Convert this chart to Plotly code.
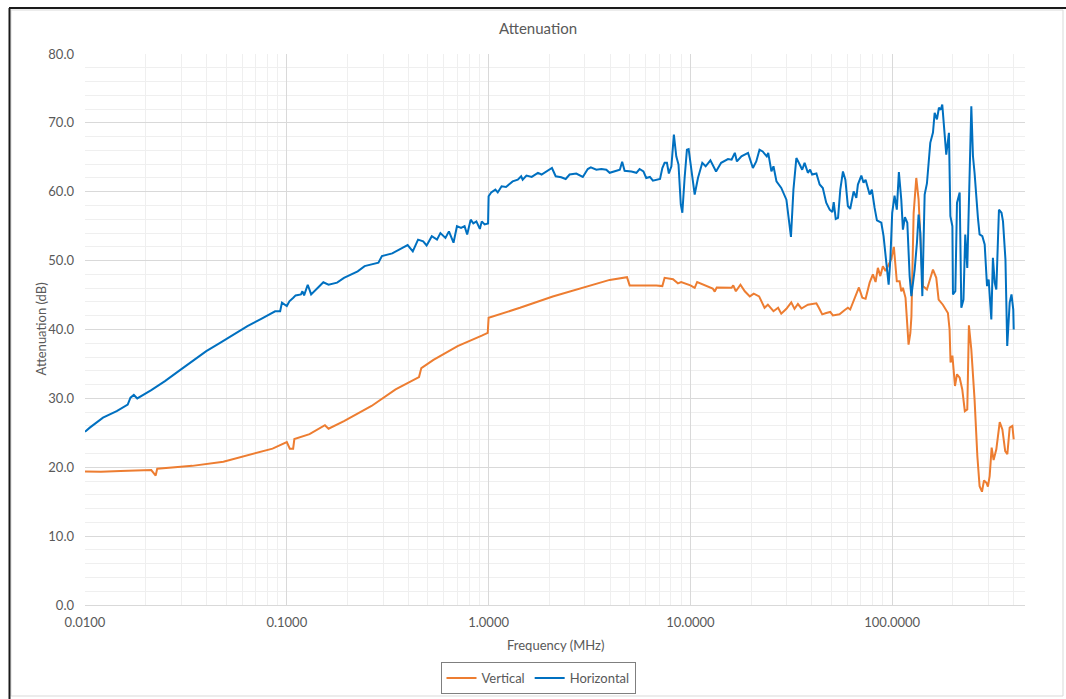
import plotly.graph_objects as go

# Vertical polarisation: frequency (MHz) and attenuation (dB)
v_freq = [0.0100, 0.0120, 0.0150, 0.0180, 0.0213, 0.0224, 0.0228, 0.0270, 0.0340, 0.0485,
          0.0690, 0.0850, 0.1000, 0.1035, 0.1075, 0.1090, 0.1296, 0.1545, 0.1610, 0.1920,
          0.2630, 0.3460, 0.4520, 0.4640, 0.5330, 0.7020, 0.9250, 0.9900, 1.0000, 1.4300,
          2.0800, 2.9300, 3.9800, 4.8500, 5.0000, 6.7800, 7.2600, 7.4500, 8.2000, 8.6700,
          9.0000, 10.0, 10.5, 10.8, 12.0, 12.9, 13.2, 13.5, 16.0, 16.3,
          16.8, 17.7, 18.6, 19.7, 20.6, 21.9, 23.3, 24.2, 25.8, 27.2,
          28.2, 29.9, 31.6, 32.8, 34.1, 35.5, 38.2, 42.1, 43.3, 45.0,
          47.1, 49.3, 50.8, 54.8, 58.0, 60.3, 61.9, 63.8, 66.4, 68.4,
          71.1, 73.8, 77.3, 80.2, 82.7, 84.9, 87.3, 89.9, 92.7, 95.3,
          98.9, 101.9, 105.4, 108.8, 110.9, 113.0, 116.4, 120.5, 123.0, 124.5,
          127.7, 131.6, 135.1, 139.3, 142.0, 148.6, 159.2, 165.3, 169.8, 178.2,
          182.4, 188.8, 192.4, 194.6, 198.7, 204.7, 209.4, 215.9, 222.4, 229.0,
          235.5, 239.9, 246.6, 255.9, 264.2, 271.0, 278.5, 285.0, 293.0, 298.0,
          304.0, 311.0, 318.0, 328.0, 341.0, 351.5, 363.0, 372.0, 382.0, 394.0,
          400.0]
v_db = [19.40, 19.35, 19.45, 19.50, 19.60, 18.80, 19.80, 19.95, 20.20, 20.80,
        21.95, 22.70, 23.65, 22.70, 22.70, 24.10, 24.80, 26.10, 25.60, 26.70,
        28.90, 31.30, 33.10, 34.40, 35.60, 37.60, 39.10, 39.50, 41.70, 43.15,
        44.80, 46.10, 47.20, 47.60, 46.40, 46.40, 46.30, 47.50, 47.30, 46.70,
        46.90, 46.40, 46.05, 46.90, 46.30, 45.95, 45.50, 46.10, 46.05, 46.40,
        45.55, 46.50, 45.55, 44.80, 45.20, 44.80, 43.15, 43.60, 42.65, 43.15,
        42.30, 43.00, 43.95, 43.00, 43.70, 43.05, 43.60, 43.80, 43.15, 42.20,
        42.40, 42.55, 42.05, 42.20, 42.80, 43.15, 42.90, 43.80, 45.10, 46.10,
        44.60, 44.45, 46.80, 48.00, 46.90, 48.95, 47.75, 49.20, 48.50, 49.30,
        50.20, 52.00, 47.00, 47.00, 45.55, 46.05, 44.60, 37.80, 39.50, 41.90,
        56.90, 62.00, 58.90, 50.60, 46.30, 45.80, 48.70, 47.50, 44.35, 43.60,
        43.15, 42.40, 40.00, 35.20, 36.20, 31.80, 33.50, 33.00, 31.30, 28.15,
        28.40, 40.60, 37.10, 29.85, 21.60, 17.25, 16.45, 18.10, 17.75, 17.20,
        18.70, 22.85, 21.05, 22.60, 26.55, 25.50, 22.35, 21.90, 25.75, 26.00,
        24.05]

# Horizontal polarisation: frequency (MHz) and attenuation (dB)
h_freq = [0.0100, 0.01056, 0.01228, 0.01436, 0.01628, 0.0168, 0.01746, 0.01815, 0.0213, 0.0249,
          0.0291, 0.0340, 0.0399, 0.0467, 0.0546, 0.0638, 0.0747, 0.0875, 0.0927, 0.0946,
          0.1000, 0.1030, 0.1077, 0.1106, 0.1175, 0.1195, 0.1218, 0.1270, 0.1320, 0.1517,
          0.1610, 0.1775, 0.1920, 0.2075, 0.2245, 0.2430, 0.2630, 0.2845, 0.2960, 0.3330,
          0.3740, 0.3970, 0.4210, 0.4470, 0.4740, 0.4930, 0.5230, 0.5550, 0.5770, 0.6110,
          0.6360, 0.6700, 0.6970, 0.7300, 0.7600, 0.7830, 0.8150, 0.8400, 0.8700, 0.9050,
          0.9250, 0.9550, 0.9940, 1.0000, 1.0300, 1.0800, 1.1100, 1.1600, 1.2200, 1.3160,
          1.3950, 1.4500, 1.4750, 1.5400, 1.6350, 1.7550, 1.8300, 2.0000, 2.0600, 2.1500,
          2.2900, 2.4100, 2.5200, 2.7200, 2.9300, 3.1000, 3.2100, 3.4200, 3.6200, 3.8300,
          3.9800, 4.3000, 4.4700, 4.5900, 4.7200, 5.1000, 5.4000, 5.6000, 5.8500, 6.0400,
          6.3000, 6.5200, 6.8000, 7.0700, 7.2600, 7.4500, 7.6500, 7.8200, 8.0500, 8.2800,
          8.5100, 8.7300, 8.9600, 9.1200, 9.3600, 9.6100, 9.8000, 10.1, 10.5, 10.9,
          11.45, 11.9, 12.56, 13.4, 14.2, 15.35, 16.0, 16.6, 17.0, 17.9,
          19.3, 20.4, 21.2, 22.0, 22.8, 23.9, 24.3, 25.2, 25.8, 26.7,
          28.2, 29.9, 31.5, 32.4, 33.5, 34.8, 35.8, 36.8, 38.2, 39.2,
          40.1, 42.1, 43.7, 45.3, 47.1, 49.0, 50.5, 51.3, 52.5, 53.9,
          55.3, 57.0, 58.6, 60.3, 61.9, 64.4, 66.4, 67.6, 70.3, 72.1,
          73.8, 77.3, 79.3, 81.8, 84.0, 88.3, 90.6, 93.5, 96.0, 97.9,
          100.0, 102.7, 105.4, 107.9, 110.9, 113.0, 115.6, 118.8, 122.0, 124.4,
          129.2, 132.6, 135.1, 137.8, 141.0, 144.8, 148.6, 154.4, 159.2, 162.3,
          166.6, 170.4, 173.9, 177.0, 181.9, 185.3, 191.0, 194.2, 198.7, 200.0,
          205.5, 209.4, 215.9, 220.0, 225.5, 230.1, 235.5, 241.7, 246.6, 251.3,
          255.9, 265.9, 271.0, 279.6, 287.2, 295.0, 300.6, 309.8, 315.5, 322.0,
          328.0, 338.0, 348.0, 354.0, 364.0, 371.5, 382.0, 390.0, 398.0, 400.0]
h_db = [25.15, 25.75, 27.20, 28.15, 29.10, 30.10, 30.50, 30.00, 31.20, 32.50,
        33.95, 35.40, 36.85, 38.05, 39.30, 40.50, 41.55, 42.65, 42.65, 43.90,
        43.40, 44.10, 44.60, 44.95, 45.10, 45.55, 44.95, 46.50, 45.10, 46.85,
        46.50, 46.80, 47.50, 48.00, 48.45, 49.20, 49.45, 49.70, 50.65, 51.05,
        51.85, 52.25, 51.35, 53.05, 52.80, 52.20, 53.55, 53.05, 54.00, 53.30,
        54.25, 52.60, 55.00, 54.75, 55.00, 53.80, 55.95, 55.40, 55.70, 54.60,
        55.70, 55.25, 55.40, 59.35, 59.90, 60.30, 59.90, 60.80, 60.70, 61.50,
        61.75, 62.25, 61.75, 62.35, 62.15, 62.75, 62.50, 63.30, 63.45, 62.25,
        62.10, 61.85, 62.50, 62.65, 62.15, 63.30, 63.55, 63.20, 63.30, 63.20,
        62.75, 63.05, 63.20, 64.35, 63.05, 62.95, 62.75, 63.30, 62.95, 62.00,
        62.15, 61.60, 61.75, 61.85, 63.45, 64.20, 64.20, 62.65, 63.70, 68.30,
        65.15, 63.95, 58.15, 56.95, 62.00, 66.10, 66.20, 63.20, 59.60, 62.00,
        64.20, 63.70, 64.55, 62.95, 64.20, 64.75, 64.65, 65.65, 64.40, 65.15,
        65.65, 63.45, 64.40, 66.10, 65.85, 65.15, 65.65, 62.95, 63.70, 61.50,
        60.55, 58.85, 53.45, 60.30, 64.90, 63.95, 63.20, 64.20, 62.75, 63.20,
        62.50, 62.65, 61.05, 60.55, 58.40, 57.40, 57.05, 58.50, 56.05, 56.20,
        60.30, 62.95, 61.75, 57.90, 57.50, 60.05, 59.10, 61.05, 62.35, 61.30,
        61.75, 59.60, 60.30, 57.65, 55.85, 55.50, 53.55, 49.70, 46.50, 50.15,
        56.95, 59.45, 57.40, 62.85, 58.85, 54.50, 56.30, 55.50, 47.75, 44.85,
        48.70, 52.60, 56.70, 54.05, 44.85, 59.60, 61.20, 67.10, 68.60, 71.45,
        70.50, 72.20, 71.90, 72.65, 69.00, 65.40, 68.55, 56.45, 55.00, 45.10,
        45.55, 58.40, 59.90, 43.15, 44.35, 53.80, 48.95, 61.75, 72.40, 65.15,
        62.75, 56.20, 53.80, 53.55, 52.35, 46.30, 47.25, 41.45, 50.40, 46.80,
        45.80, 57.40, 56.95, 55.70, 50.15, 37.60, 43.90, 45.10, 42.90, 40.00]

x_tick_vals = [0.01, 0.1, 1, 10, 100]
x_tick_text = ["0.0100", "0.1000", "1.0000", "10.0000", "100.0000"]

FONT = "Lato, 'Open Sans', sans-serif"
TEXT = "#595959"
W, H = 1066, 699
L, R, T, B = 85, 41, 54, 94
PW, PH = W - L - R, H - T - B


def px_x(px):
    return (px - L) / PW


def px_y(py):
    return (H - B - py) / PH


fig = go.Figure()
fig.add_trace(go.Scatter(x=v_freq, y=v_db, name="Vertical", mode="lines",
                         line=dict(color="#ED7D31", width=2)))
fig.add_trace(go.Scatter(x=h_freq, y=h_db, name="Horizontal", mode="lines",
                         line=dict(color="#0070C0", width=2)))

fig.update_layout(
    width=W, height=H,
    margin=dict(l=L, r=R, t=T, b=B, pad=0, autoexpand=False),
    paper_bgcolor="white", plot_bgcolor="white",
    font=dict(family=FONT, size=13, color=TEXT),
    title=dict(text="Attenuation", x=538 / W, xref="container", xanchor="center",
               y=1 - 29 / H, yref="container", yanchor="middle",
               font=dict(family=FONT, size=15, color=TEXT)),
    xaxis=dict(type="log", range=[-2, 2.658], tickvals=x_tick_vals, ticktext=x_tick_text,
               showgrid=True, gridcolor="#d9d9d9", gridwidth=1,
               minor=dict(dtick="D1", showgrid=True, gridcolor="#efefef", gridwidth=1, ticks=""),
               showline=True, linecolor="#d9d9d9", linewidth=1,
               ticks="", ticklabelstandoff=5, zeroline=False,
               tickfont=dict(size=13, color=TEXT)),
    yaxis=dict(range=[0, 80], dtick=10, tickformat=".1f",
               showgrid=True, gridcolor="#d9d9d9", gridwidth=1,
               minor=dict(dtick=2, showgrid=True, gridcolor="#efefef", gridwidth=1, ticks=""),
               showline=False, ticks="", ticklabelstandoff=10, zeroline=False,
               tickfont=dict(size=13, color=TEXT)),
    legend=dict(orientation="h", xref="container", yref="container",
                x=538 / W, xanchor="center", y=1 - 662 / H, yanchor="top",
                bordercolor="#7f7f7f", borderwidth=1, bgcolor="white",
                font=dict(family=FONT, size=13, color=TEXT), itemwidth=30,
                tracegroupgap=0),
    showlegend=True,
    annotations=[
        dict(text="Frequency (MHz)", x=0.5, y=px_y(645), xref="paper", yref="paper",
             xanchor="center", yanchor="middle", showarrow=False,
             font=dict(family=FONT, size=13, color=TEXT)),
        dict(text="Attenuation (dB)", x=px_x(40), y=0.5, xref="paper", yref="paper",
             xanchor="center", yanchor="middle", textangle=-90, showarrow=False,
             font=dict(family=FONT, size=13, color=TEXT)),
    ],
    shapes=[
        # chart-area border
        dict(type="rect", xref="paper", yref="paper",
             x0=px_x(11), x1=px_x(1063), y0=px_y(696), y1=px_y(10),
             line=dict(color="#d9d9d9", width=1), layer="below"),
        # dark frame along the top and left
        dict(type="line", xref="paper", yref="paper",
             x0=px_x(9), x1=px_x(1066), y0=px_y(8), y1=px_y(8),
             line=dict(color="#1a1a1a", width=2)),
        dict(type="line", xref="paper", yref="paper",
             x0=px_x(9.5), x1=px_x(9.5), y0=px_y(8), y1=px_y(699),
             line=dict(color="#1a1a1a", width=2)),
    ],
)

fig.write_html("out.html")
